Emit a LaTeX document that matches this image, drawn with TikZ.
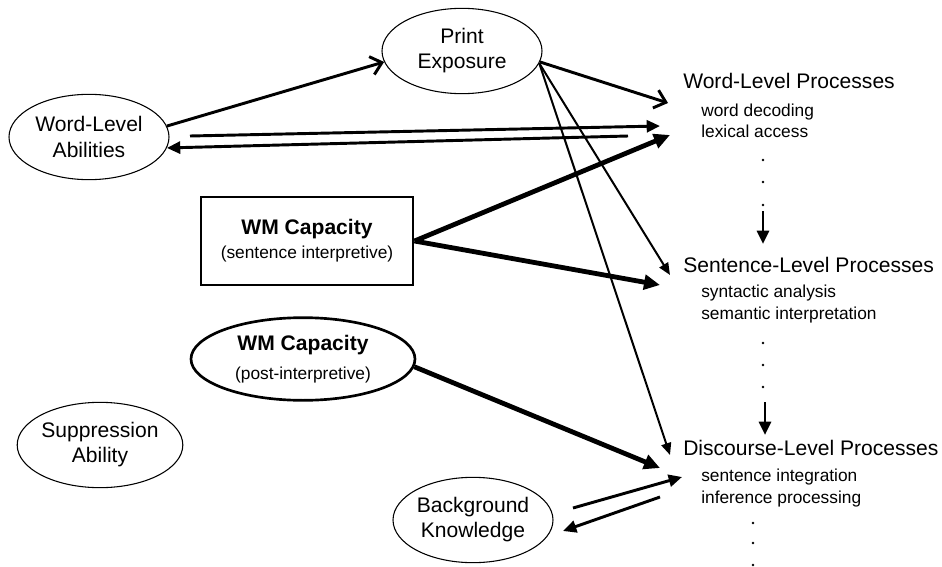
\documentclass[tikz,border=0pt]{standalone}
\usepackage{fontspec}
\setmainfont{Liberation Sans}
\usetikzlibrary{arrows.meta,shapes.geometric}
\newcommand\detailsize{\fontsize{13}{15.8}\selectfont}

\begin{document}
\begin{tikzpicture}[
  x=0.75pt, y=-0.75pt,
  font=\fontsize{15.8}{18.8}\selectfont,
  oval/.style={draw, ellipse, line width=0.8pt, inner sep=0pt, align=center, minimum width=120pt, minimum height=64pt},
  heading/.style={anchor=west, inner sep=0pt},
  detail/.style={anchor=west, inner sep=0pt, align=left, font=\detailsize},
  openarrow/.style={-{Straight Barb[length=8pt,width=14pt]}, line width=2.2pt},
  link/.style={-{Triangle[length=10pt,width=9pt]}, line width=2.2pt},
  fine/.style={-{Triangle[length=9pt,width=7.5pt]}, line width=1.5pt},
  heavy/.style={-{Triangle[length=12pt,width=11pt]}, line width=3.6pt}
]
  \useasboundingbox (0,0) rectangle (942,567);

  % left side factors
  \node[oval] (print) at (462,51) {Print\\Exposure};
  \node[oval] (abil) at (89,137) {Word-Level\\Abilities};
  \node[draw, line width=2.2pt, minimum width=159pt, minimum height=66pt, inner sep=0pt, align=center] (wmsent) at (307,241)
    {\textbf{WM Capacity}\\[-1pt]{\detailsize(sentence interpretive)}};
  \node[oval, line width=2pt, minimum width=168pt, minimum height=62pt] (wmpost) at (303,359)
    {\textbf{WM Capacity}\\[3pt]{\detailsize(post-interpretive)}};
  \node[oval] (supp) at (100,445) {Suppression\\Ability};
  \node[oval] (back) at (473,520) {Background\\Knowledge};

  % processing levels
  \node[heading] (wlp) at (683,81) {Word-Level Processes};
  \node[detail] (wlpdet) at (701,121) {word decoding\\lexical access};
  \node[heading] (slp) at (683,265) {Sentence-Level Processes};
  \node[detail] (slpdet) at (701,304) {syntactic analysis\\semantic interpretation};
  \node[heading] (dlp) at (683,448) {Discourse-Level Processes};
  \node[detail] (dlpdet) at (701,488) {sentence integration\\inference processing};

  \foreach \y in {160,182,205} \fill (763,\y) circle (1pt);
  \foreach \y in {343,365,387} \fill (763,\y) circle (1pt);
  \foreach \y in {523,543,565} \fill (753,\y) circle (1pt);

  % free arrow ends
  \coordinate (wIn1) at (668,103);
  \coordinate (wIn2) at (660,126);
  \coordinate (wIn3) at (670,135);
  \coordinate (wOut) at (628,136);
  \coordinate (aOut) at (190,136);
  \coordinate (sIn1) at (670,275);
  \coordinate (sIn2) at (660,285);
  \coordinate (dIn1) at (670,455);
  \coordinate (dIn2) at (660,468);
  \coordinate (dIn3) at (682,477);
  \coordinate (dOut) at (660,497);
  \coordinate (bOut) at (573,508);
  \coordinate (bIn) at (563,531);
  \coordinate (wDown) at (763,211);
  \coordinate (sTop) at (763,244);
  \coordinate (sDown) at (765,402);
  \coordinate (dTop) at (765,435);

  \draw[openarrow] (abil.8) -- (print.188);
  \draw[openarrow] (print.-8) -- (wIn1);
  \draw[link] (aOut) -- (wIn2);
  \draw[link] (wOut) -- (abil.-8);
  \draw[heavy] (wmsent.east) -- (wIn3);
  \draw[heavy] (wmsent.east) -- (sIn2);
  \draw[fine] (print.-9) -- (sIn1);
  \draw[fine] (print.-9) -- (dIn1);
  \draw[heavy] (wmpost.-4) -- (dIn2);
  \draw[link] (bOut) -- (dIn3);
  \draw[link] (dOut) -- (bIn);
  \draw[link] (wDown) -- (sTop);
  \draw[link] (sDown) -- (dTop);
\end{tikzpicture}
\end{document}
